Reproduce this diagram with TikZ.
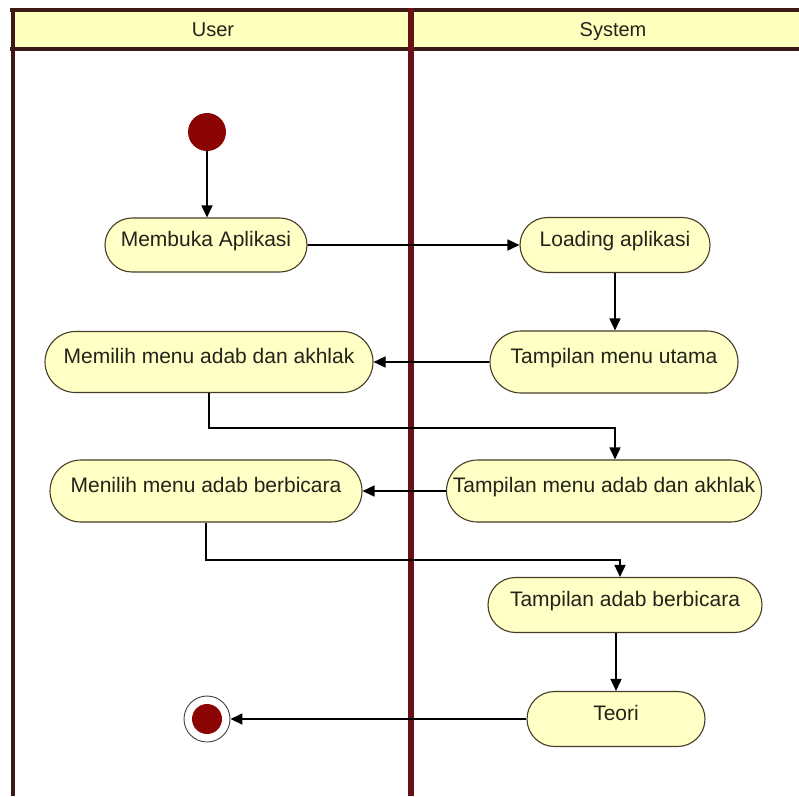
\documentclass[tikz,border=0pt]{standalone}
\usepackage{fontspec}
\setmainfont{Liberation Sans}
\usetikzlibrary{shapes.misc,arrows.meta}
\definecolor{lanefill}{RGB}{255,255,190}
\definecolor{actfill}{RGB}{255,255,198}
\definecolor{actdraw}{RGB}{70,60,40}
\definecolor{framecol}{RGB}{60,25,20}
\definecolor{divcol}{RGB}{105,15,22}
\definecolor{dotred}{RGB}{140,5,5}
\definecolor{txtcol}{RGB}{35,35,25}
\tikzset{
  act/.style={rounded rectangle, draw=actdraw, line width=1.1pt, fill=actfill,
    text=txtcol, font=\fontsize{21}{24}\selectfont, inner xsep=6pt, inner ysep=0pt,
    text height=15pt, text depth=12pt},
  flow/.style={draw=black, line width=1.6pt, -{Triangle[length=12pt,width=11pt]}},
  lanehead/.style={text=txtcol, font=\fontsize{20}{24}\selectfont, text height=14pt, text depth=4pt, inner sep=0pt},
}
\begin{document}
\begin{tikzpicture}[x=1pt,y=-1pt]
\useasboundingbox (0,0) rectangle (799,796);
\fill[white] (0,0) rectangle (799,796);
% swimlanes
\fill[lanefill] (12,10) rectangle (799,49);
\draw[framecol, line width=4pt] (10,10) -- (799,10);
\draw[framecol, line width=4pt] (10,49) -- (799,49);
\draw[framecol, line width=4pt] (12.5,8) -- (12.5,796);
\draw[divcol, line width=6pt] (411,8) -- (411,796);
\node[lanehead] (huser) at (213,31) {User};
\node[lanehead] (hsys) at (613,31) {System};
% nodes
\node[circle, fill=dotred, minimum size=38pt, inner sep=0pt] (start) at (207,132) {};
\node[act, minimum width=214pt, minimum height=54pt] (membuka) at (206,245) {Membuka Aplikasi};
\node[act, minimum width=202pt, minimum height=55pt] (loading) at (615,245) {Loading aplikasi};
\node[act, minimum width=260pt, minimum height=62pt] (utama) at (614,362) {Tampilan menu utama};
\node[act, minimum width=340pt, minimum height=61pt] (memilih) at (209,362) {Memilih menu adab dan akhlak};
\node[act, minimum width=327pt, minimum height=62pt] (menuadab) at (604,491) {Tampilan menu adab dan akhlak};
\node[act, minimum width=324pt, minimum height=62pt] (menilih) at (206,491) {Menilih menu adab berbicara};
\node[act, minimum width=286pt, minimum height=55pt] (berbicara) at (625,605) {Tampilan adab berbicara};
\node[act, minimum width=190pt, minimum height=55pt] (teori) at (616,719) {Teori};
\node[circle, draw=black!75, line width=0.9pt, fill=white, minimum size=46pt, inner sep=0pt] (end) at (207,719) {};
\fill[dotred] (end.center) circle (15pt);
% connectors
\coordinate (k1) at (615,428);
\coordinate (k2) at (620,560);
\draw[flow] (start) -- (start |- membuka.north);
\draw[flow] (membuka) -- (loading);
\draw[flow] (loading.south) -- (utama.north -| loading.south);
\draw[flow] (utama) -- (memilih);
\draw[flow] (memilih.south) |- (k1) -- (k1 |- menuadab.north);
\draw[flow] (menuadab) -- (menilih);
\draw[flow] (menilih.south) |- (k2) -- (k2 |- berbicara.north);
\draw[flow] (teori.north |- berbicara.south) -- (teori.north);
\draw[flow] (teori) -- (end);
\end{tikzpicture}
\end{document}
